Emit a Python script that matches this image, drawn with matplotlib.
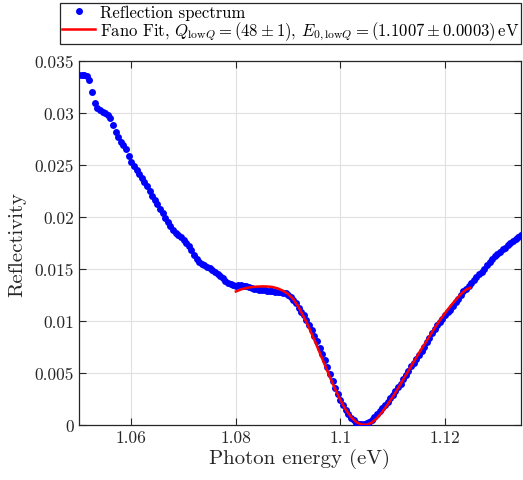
import numpy as np
import matplotlib
matplotlib.use("Agg")
from matplotlib import pyplot as plt
from matplotlib.ticker import FuncFormatter

plt.rcParams['font.family'] = 'serif'
plt.rcParams['font.serif'] = ['cmr10', 'DejaVu Serif']
plt.rcParams['mathtext.fontset'] = 'cm'
plt.rcParams['axes.formatter.use_mathtext'] = True

# measured reflection spectrum (photon energy in eV, reflectivity)
energy = [
    1.0500, 1.0505, 1.0510, 1.0515, 1.0520, 1.0525, 1.0530, 1.0535, 1.0540, 1.0545,
    1.0550, 1.0555, 1.0560, 1.0565, 1.0570, 1.0575, 1.0580, 1.0585, 1.0590, 1.0595,
    1.0600, 1.0605, 1.0610, 1.0615, 1.0620, 1.0625, 1.0630, 1.0635, 1.0640, 1.0645,
    1.0650, 1.0655, 1.0660, 1.0665, 1.0670, 1.0675, 1.0680, 1.0685, 1.0690, 1.0695,
    1.0700, 1.0705, 1.0710, 1.0715, 1.0720, 1.0725, 1.0730, 1.0735, 1.0740, 1.0745,
    1.0750, 1.0755, 1.0760, 1.0765, 1.0770, 1.0775, 1.0780, 1.0785, 1.0790, 1.0795,
    1.0800, 1.0805, 1.0810, 1.0815, 1.0820, 1.0825, 1.0830, 1.0835, 1.0840, 1.0845,
    1.0850, 1.0855, 1.0860, 1.0865, 1.0870, 1.0875, 1.0880, 1.0885, 1.0890, 1.0895,
    1.0900, 1.0905, 1.0910, 1.0915, 1.0920, 1.0925, 1.0930, 1.0935, 1.0940, 1.0945,
    1.0950, 1.0955, 1.0960, 1.0965, 1.0970, 1.0975, 1.0980, 1.0985, 1.0990, 1.0995,
    1.1000, 1.1005, 1.1010, 1.1015, 1.1020, 1.1025, 1.1030, 1.1035, 1.1040, 1.1045,
    1.1050, 1.1055, 1.1060, 1.1065, 1.1070, 1.1075, 1.1080, 1.1085, 1.1090, 1.1095,
    1.1100, 1.1105, 1.1110, 1.1115, 1.1120, 1.1125, 1.1130, 1.1135, 1.1140, 1.1145,
    1.1150, 1.1155, 1.1160, 1.1165, 1.1170, 1.1175, 1.1180, 1.1185, 1.1190, 1.1195,
    1.1200, 1.1205, 1.1210, 1.1215, 1.1220, 1.1225, 1.1230, 1.1235, 1.1240, 1.1245,
    1.1250, 1.1255, 1.1260, 1.1265, 1.1270, 1.1275, 1.1280, 1.1285, 1.1290, 1.1295,
    1.1300, 1.1305, 1.1310, 1.1315, 1.1320, 1.1325, 1.1330, 1.1335, 1.1340, 1.1345,
]
reflectivity = [
    0.03368, 0.03370, 0.03368, 0.03360, 0.03320, 0.03200, 0.03100, 0.03045, 0.03025, 0.03010,
    0.02998, 0.02980, 0.02950, 0.02890, 0.02820, 0.02770, 0.02725, 0.02690, 0.02650, 0.02590,
    0.02530, 0.02490, 0.02450, 0.02410, 0.02380, 0.02340, 0.02300, 0.02250, 0.02200, 0.02160,
    0.02125, 0.02080, 0.02035, 0.01990, 0.01950, 0.01910, 0.01878, 0.01850, 0.01825, 0.01805,
    0.01780, 0.01750, 0.01720, 0.01680, 0.01640, 0.01600, 0.01570, 0.01550, 0.01540, 0.01525,
    0.01510, 0.01490, 0.01470, 0.01450, 0.01430, 0.01410, 0.01390, 0.01370, 0.01355, 0.01345,
    0.01340, 0.01345, 0.01348, 0.01340, 0.01335, 0.01325, 0.01318, 0.01312, 0.01305, 0.01302,
    0.01300, 0.01296, 0.01292, 0.01290, 0.01286, 0.01284, 0.01282, 0.01278, 0.01274, 0.01268,
    0.01255, 0.01235, 0.01205, 0.01170, 0.01130, 0.01090, 0.01055, 0.01010, 0.00965, 0.00915,
    0.00860, 0.00805, 0.00745, 0.00685, 0.00625, 0.00560, 0.00490, 0.00420, 0.00355, 0.00295,
    0.00240, 0.00190, 0.00145, 0.00105, 0.00070, 0.00045, 0.00025, 0.00015, 0.00010, 0.00012,
    0.00020, 0.00030, 0.00048, 0.00075, 0.00105, 0.00135, 0.00165, 0.00195, 0.00225, 0.00260,
    0.00290, 0.00330, 0.00365, 0.00400, 0.00440, 0.00480, 0.00525, 0.00565, 0.00600, 0.00640,
    0.00675, 0.00710, 0.00755, 0.00795, 0.00840, 0.00885, 0.00920, 0.00960, 0.00990, 0.01020,
    0.01055, 0.01085, 0.01110, 0.01145, 0.01180, 0.01210, 0.01250, 0.01290, 0.01310, 0.01335,
    0.01370, 0.01400, 0.01425, 0.01450, 0.01475, 0.01505, 0.01535, 0.01570, 0.01600, 0.01625,
    0.01650, 0.01665, 0.01690, 0.01705, 0.01730, 0.01755, 0.01770, 0.01790, 0.01810, 0.01825,
]

# Fano fit curve
fit_energy = [
    1.080, 1.081, 1.082, 1.083, 1.084, 1.085, 1.086, 1.087, 1.088, 1.089,
    1.090, 1.091, 1.092, 1.093, 1.094, 1.095, 1.096, 1.097, 1.098, 1.099,
    1.100, 1.101, 1.102, 1.103, 1.104, 1.105, 1.106, 1.107, 1.108, 1.109,
    1.110, 1.111, 1.112, 1.113, 1.114, 1.115, 1.116, 1.117, 1.118, 1.119,
    1.120, 1.121, 1.122, 1.123, 1.124, 1.1248,
]
fit_refl = [
    0.01285, 0.01305, 0.01318, 0.01327, 0.01332, 0.01334, 0.01333, 0.01328, 0.01315, 0.01292,
    0.01260, 0.01210, 0.01135, 0.01040, 0.00935, 0.00820, 0.00700, 0.00580, 0.00460, 0.00345,
    0.00240, 0.00150, 0.00080, 0.00030, 0.00006, 0.00004, 0.00025, 0.00068, 0.00128, 0.00198,
    0.00273, 0.00353, 0.00438, 0.00523, 0.00608, 0.00693, 0.00773, 0.00853, 0.00933, 0.01008,
    0.01078, 0.01143, 0.01203, 0.01258, 0.01303, 0.01320,
]

xticks = [1.06, 1.08, 1.1, 1.12]
yticks = [0, 0.005, 0.01, 0.015, 0.02, 0.025, 0.03, 0.035]

fig = plt.figure(figsize=(5.23, 4.81), dpi=100)
ax = fig.add_axes([0.151, 0.114, 0.845, 0.757])

ax.plot(energy, reflectivity, 'o', color='#0000ff', markersize=5, markeredgewidth=0,
        label='Reflection spectrum', zorder=3)
ax.plot(fit_energy, fit_refl, '-', color='#ff0000', linewidth=1.8,
        label=r'Fano Fit, $Q_{\mathrm{low}Q}=(48\pm1)$, $E_{0,\mathrm{low}Q}=(1.1007\pm0.0003)\,\mathrm{eV}$',
        zorder=4)

ax.set_xlim(1.05, 1.1345)
ax.set_ylim(0, 0.035)
ax.set_xticks(xticks)
ax.set_yticks(yticks)
fmt = FuncFormatter(lambda v, p: '%g' % v)
ax.xaxis.set_major_formatter(fmt)
ax.yaxis.set_major_formatter(fmt)
ax.tick_params(direction='in', top=True, right=True, length=5, width=0.8,
               labelsize=12.5, colors='#262626')
ax.grid(True, color='#e0e0e0', linewidth=0.8)
ax.set_axisbelow(True)
for s in ax.spines.values():
    s.set_color('#262626')
    s.set_linewidth(0.9)

ax.set_xlabel('Photon energy (eV)', fontsize=15, color='#262626', labelpad=2)
ax.set_ylabel('Reflectivity', fontsize=15, color='#262626', labelpad=6)

leg = fig.legend(loc='upper right', bbox_to_anchor=(0.997, 0.992), fontsize=12,
                 fancybox=False, framealpha=1, edgecolor='#262626',
                 borderpad=0.1, labelspacing=0.0, handlelength=2.0,
                 handletextpad=0.3, borderaxespad=0)
leg.get_frame().set_linewidth(0.9)

fig.savefig('out.png', dpi=100)
